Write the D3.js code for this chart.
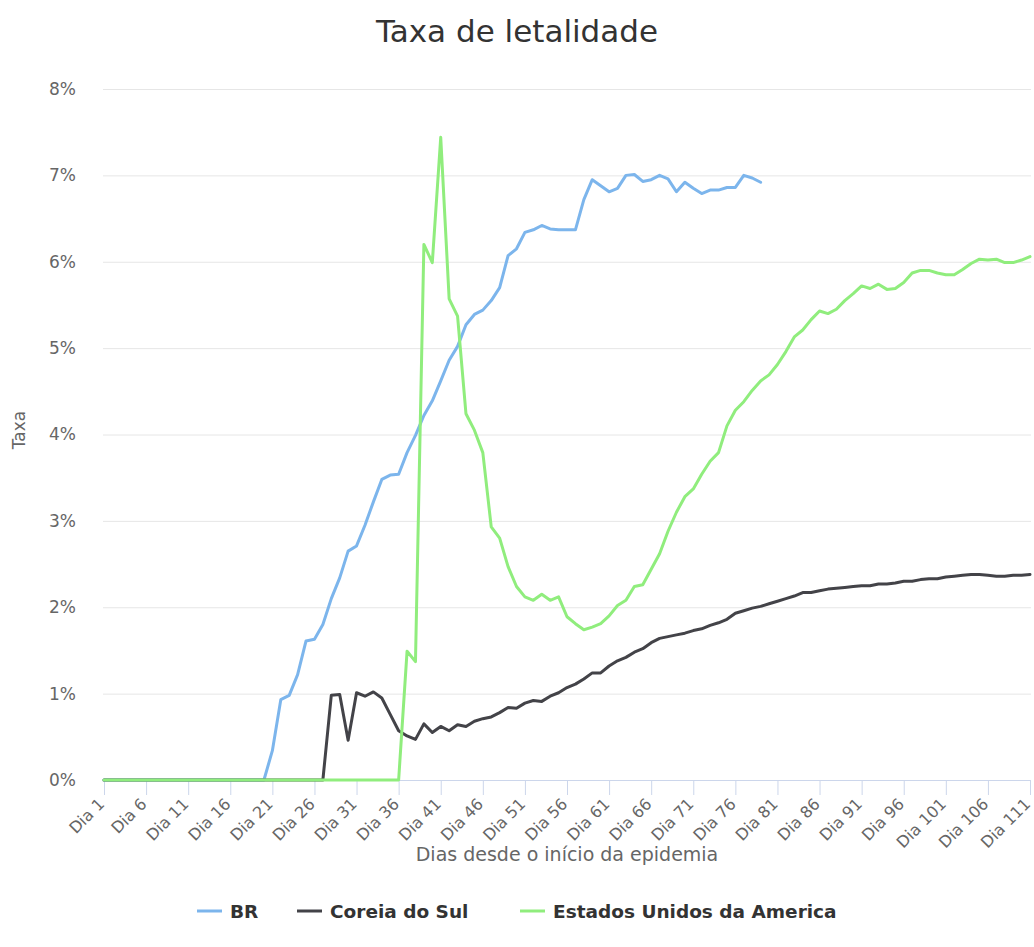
<!DOCTYPE html>
<html>
<head>
<meta charset="utf-8">
<script src="https://cdn.jsdelivr.net/npm/d3@7/dist/d3.min.js"></script>
<style>
  body { margin: 0; background: #fff; }
  text { font-family: "DejaVu Sans", sans-serif; }
</style>
</head>
<body>
<svg id="chart" width="1034" height="947"></svg>
<script>
// dias 1..111
const days = d3.range(1, 112);
const tickDays = d3.range(1, 112, 5);
const yTicks = [0, 1, 2, 3, 4, 5, 6, 7, 8];

// BR: zero ate o dia 20, depois valores dos dias 21..79
const brStart = 21;
const brValues = [0.34, 0.93, 0.98, 1.22, 1.61, 1.63, 1.80, 2.10, 2.34, 2.65,
  2.71, 2.95, 3.22, 3.48, 3.53, 3.54, 3.79, 3.99, 4.22, 4.39,
  4.62, 4.86, 5.02, 5.27, 5.39, 5.44, 5.55, 5.70, 6.07, 6.15,
  6.34, 6.37, 6.42, 6.38, 6.37, 6.37, 6.37, 6.72, 6.95, 6.88,
  6.81, 6.85, 7.00, 7.01, 6.93, 6.95, 7.00, 6.96, 6.81, 6.92,
  6.85, 6.79, 6.83, 6.83, 6.86, 6.86, 7.00, 6.97, 6.92];

// Coreia do Sul: zero ate o dia 27, depois dias 28..111
const krStart = 28;
const krValues = [0.98, 0.99, 0.46, 1.01, 0.97, 1.02, 0.95, 0.76, 0.57, 0.51,
  0.47, 0.65, 0.55, 0.62, 0.57, 0.64, 0.62, 0.68, 0.71, 0.73,
  0.78, 0.84, 0.83, 0.89, 0.92, 0.91, 0.97, 1.01, 1.07, 1.11,
  1.17, 1.24, 1.24, 1.32, 1.38, 1.42, 1.48, 1.52, 1.59, 1.64,
  1.66, 1.68, 1.70, 1.73, 1.75, 1.79, 1.82, 1.86, 1.93, 1.96,
  1.99, 2.01, 2.04, 2.07, 2.10, 2.13, 2.17, 2.17, 2.19, 2.21,
  2.22, 2.23, 2.24, 2.25, 2.25, 2.27, 2.27, 2.28, 2.30, 2.30,
  2.32, 2.33, 2.33, 2.35, 2.36, 2.37, 2.38, 2.38, 2.37, 2.36,
  2.36, 2.37, 2.37, 2.38];

// Estados Unidos: zero ate o dia 36, depois dias 37..111
const usStart = 37;
const usValues = [1.49, 1.37, 6.20, 5.99, 7.44, 5.57, 5.37, 4.24, 4.05, 3.79,
  2.93, 2.80, 2.47, 2.24, 2.12, 2.08, 2.15, 2.08, 2.12, 1.89,
  1.81, 1.74, 1.77, 1.81, 1.90, 2.02, 2.08, 2.24, 2.26, 2.44,
  2.62, 2.88, 3.10, 3.28, 3.37, 3.54, 3.69, 3.79, 4.10, 4.28,
  4.38, 4.51, 4.62, 4.69, 4.81, 4.96, 5.13, 5.21, 5.33, 5.43,
  5.40, 5.45, 5.55, 5.63, 5.72, 5.69, 5.74, 5.68, 5.69, 5.76,
  5.87, 5.90, 5.90, 5.87, 5.85, 5.85, 5.91, 5.98, 6.03, 6.02,
  6.03, 5.99, 5.99, 6.02, 6.06];

const seriesNames = ['BR', 'Coreia do Sul', 'Estados Unidos da America'];
const seriesColors = ['#7cb5ec', '#434348', '#90ed7d'];

function buildSeries(start, values) {
  const pts = [];
  for (let d = 1; d < start; d++) pts.push({ day: d, value: 0 });
  values.forEach((v, i) => pts.push({ day: start + i, value: v }));
  return pts;
}

const series = [
  buildSeries(brStart, brValues),
  buildSeries(krStart, krValues),
  buildSeries(usStart, usValues)
];

const svg = d3.select('#chart');
const plot = { left: 104, right: 1030, top: 89, bottom: 780 };

const xScale = d3.scalePoint().domain(days).range([plot.left, plot.right]);
const yScale = d3.scaleLinear().domain([0, 8]).range([plot.bottom, plot.top]);

// Titulo
svg.append('text')
   .attr('x', 517).attr('y', 42)
   .attr('text-anchor', 'middle')
   .attr('font-size', 31)
   .attr('fill', '#333')
   .text('Taxa de letalidade');

// Grade + rotulos do eixo y
const yAxis = d3.axisLeft(yScale)
                .tickValues(yTicks)
                .tickSize(-(plot.right - plot.left + 2))
                .tickPadding(27)
                .tickFormat(d => d + '%');

svg.append('g')
   .attr('transform', `translate(${plot.left - 1},0)`)
   .call(yAxis)
   .call(g => g.select('.domain').remove())
   .call(g => g.selectAll('.tick line').attr('stroke', '#e6e6e6'))
   .call(g => g.selectAll('.tick text')
               .attr('font-size', 17)
               .attr('fill', '#666')
               .attr('font-family', '"DejaVu Sans", sans-serif'));

// Eixo x
const xAxis = d3.axisBottom(xScale)
                .tickValues(tickDays)
                .tickSize(15)
                .tickSizeOuter(0)
                .tickFormat(d => 'Dia ' + d);

svg.append('g')
   .attr('transform', `translate(0,${plot.bottom})`)
   .call(xAxis)
   .call(g => g.select('.domain').attr('stroke', '#ccd6eb'))
   .call(g => g.selectAll('.tick line').attr('stroke', '#ccd6eb'))
   .call(g => g.selectAll('.tick text')
               .attr('font-size', 16)
               .attr('fill', '#666')
               .attr('font-family', '"DejaVu Sans", sans-serif')
               .attr('text-anchor', 'end')
               .attr('x', 0).attr('y', 0).attr('dy', 0)
               .attr('transform', 'translate(1,25) rotate(-45)'));

// Titulos dos eixos
svg.append('text')
   .attr('x', (plot.left + plot.right) / 2).attr('y', 861)
   .attr('text-anchor', 'middle')
   .attr('font-size', 19)
   .attr('fill', '#666')
   .text('Dias desde o início da epidemia');

svg.append('text')
   .attr('transform', 'translate(25,430) rotate(-90)')
   .attr('text-anchor', 'middle')
   .attr('font-size', 17)
   .attr('fill', '#666')
   .text('Taxa');

// Linhas
const line = d3.line()
               .x(d => xScale(d.day))
               .y(d => yScale(d.value));

svg.append('g')
   .selectAll('path')
   .data(series)
   .join('path')
   .attr('d', line)
   .attr('fill', 'none')
   .attr('stroke', (d, i) => seriesColors[i])
   .attr('stroke-width', 3)
   .attr('stroke-linejoin', 'round')
   .attr('stroke-linecap', 'round');

// Legenda
const legendX = [197, 297, 520];
const legend = svg.append('g').attr('transform', 'translate(0,911)');

const item = legend.selectAll('g')
                   .data(seriesNames)
                   .join('g')
                   .attr('transform', (d, i) => `translate(${legendX[i]},0)`);

item.append('line')
    .attr('x1', 0).attr('x2', 25)
    .attr('stroke', (d, i) => seriesColors[i])
    .attr('stroke-width', 3);

item.append('text')
    .attr('x', 33).attr('y', 7)
    .attr('font-size', 18.5)
    .attr('font-weight', 'bold')
    .attr('fill', '#333')
    .text(d => d);
</script>
</body>
</html>
